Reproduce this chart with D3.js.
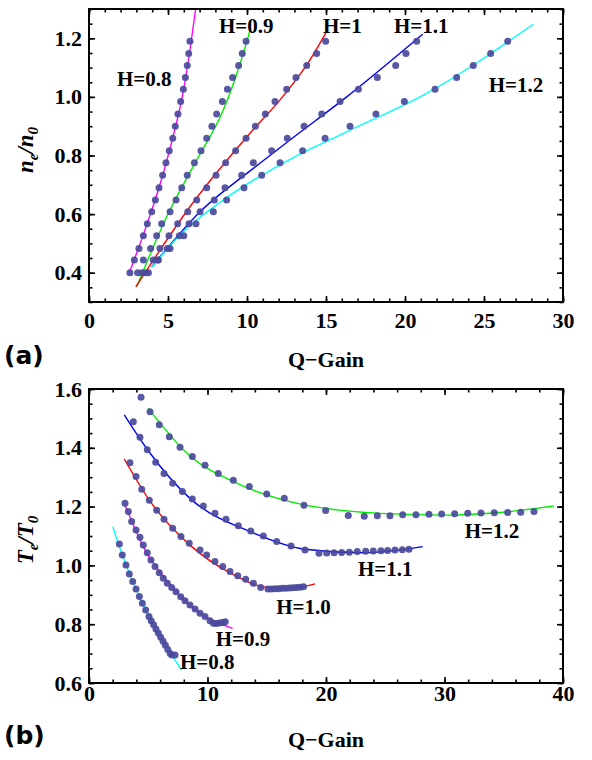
<!DOCTYPE html>
<html>
<head>
<meta charset="utf-8">
<script src="https://cdnjs.cloudflare.com/ajax/libs/d3/7.8.5/d3.min.js"></script>
<style>
body { margin: 0; background: #fff; }
svg { display: block; }
.hlab { font-family: "Liberation Serif", serif; font-weight: bold; font-size: 21px; }
</style>
</head>
<body>
<div id="chart"></div>
<script>
// ---------- panel (a): n_e/n_0 against Q-Gain ----------
var nLevels = [0.400, 0.443, 0.483, 0.526, 0.567, 0.608, 0.648, 0.690, 0.733, 0.775,
               0.816, 0.859, 0.900, 0.942, 0.984, 1.026, 1.066, 1.107, 1.148, 1.190];
var nQ08 = [2.59, 2.87, 3.16, 3.44, 3.69, 3.97, 4.20, 4.43, 4.66, 4.87, 5.08, 5.30, 5.46, 5.63, 5.80, 5.97, 6.10, 6.22, 6.31, 6.39];
var nQ09 = [3.08, 3.44, 3.90, 4.28, 4.60, 5.13, 5.51, 5.87, 6.22, 6.67, 7.09, 7.45, 7.78, 8.08, 8.44, 8.76, 9.09, 9.47, 9.70, 9.94];
var nQ10 = [3.37, 4.07, 4.49, 5.06, 5.61, 6.25, 6.82, 7.45, 8.04, 8.65, 9.28, 9.94, 10.53, 11.16, 11.77, 12.51, 13.10, 13.78, 14.41, 14.98];
var nQ11 = [3.59, 4.35, 4.96, 5.72, 6.33, 7.03, 7.93, 8.61, 9.66, 10.40, 11.56, 12.55, 13.61, 14.73, 15.89, 17.05, 18.25, 19.41, 20.06, 20.74];
var nQ12 = [3.76, 4.39, 5.13, 6.00, 6.77, 7.87, 8.71, 9.81, 10.93, 12.09, 13.52, 14.94, 16.52, 18.16, 19.96, 21.90, 23.27, 24.32, 25.42, 26.50];

// fitted curves
var nFitQ08 = [2.55, 3.44, 4.43, 5.30, 5.97, 6.39, 6.75];
var nFitN08 = [0.400, 0.530, 0.690, 0.860, 1.020, 1.160, 1.300];
var nFitQ09 = [3.02, 5.02, 6.82, 8.50, 9.77, 10.19];
var nFitN09 = [0.352, 0.603, 0.785, 0.955, 1.149, 1.228];
var nFitQ10 = [2.97, 6.39, 10.19, 12.09, 13.78, 15.04];
var nFitN10 = [0.352, 0.625, 0.876, 0.990, 1.109, 1.223];
var nFitQ11 = [3.97, 7.03, 10.40, 12.72, 16.31, 21.12];
var nFitN11 = [0.420, 0.608, 0.756, 0.853, 1.000, 1.214];
var nFitQ12 = [4.00, 5.76, 8.50, 12.72, 16.31, 21.16, 28.12];
var nFitN12 = [0.420, 0.529, 0.648, 0.787, 0.881, 1.006, 1.248];

var nLabels = ["H=0.8", "H=0.9", "H=1", "H=1.1", "H=1.2"];
var nLabelQ = [1.77, 8.23, 14.81, 19.30, 25.30];
var nLabelN = [1.037, 1.218, 1.218, 1.218, 1.017];
var nColors = ["#ff00ff", "#00ee00", "#ff0000", "#0000ff", "#00ffff"];

// ---------- panel (b): T_e/T_0 against Q-Gain ----------
var tQ08 = [2.56, 2.81, 3.12, 3.40, 3.69, 3.97, 4.25, 4.50, 4.78, 5.06, 5.25, 5.45, 5.65, 5.85, 6.05, 6.25, 6.45, 6.65, 6.85, 7.00, 7.26];
var tT08 = [1.073, 1.035, 1.001, 0.971, 0.945, 0.920, 0.894, 0.871, 0.848, 0.826, 0.812, 0.798, 0.784, 0.770, 0.756, 0.742, 0.728, 0.714, 0.700, 0.695, 0.695];
var tQ09 = [3.04, 3.32, 3.60, 3.97, 4.30, 4.58, 4.92, 5.23, 5.57, 5.93, 6.27, 6.61, 6.98, 7.34, 7.74, 8.10, 8.52, 8.95, 9.37, 9.79, 10.21, 10.50, 10.75, 11.00, 11.25, 11.50];
var tT09 = [1.211, 1.183, 1.149, 1.120, 1.096, 1.069, 1.043, 1.018, 0.996, 0.975, 0.956, 0.939, 0.925, 0.910, 0.893, 0.880, 0.865, 0.852, 0.837, 0.826, 0.812, 0.803, 0.802, 0.804, 0.806, 0.808];
var tQ10 = [3.46, 3.97, 4.45, 5.09, 5.71, 6.33, 7.06, 7.76, 8.46, 9.37, 9.93, 10.63, 11.28, 11.90, 12.55, 13.22, 13.87, 14.49, 15.10, 15.40, 15.70, 16.00, 16.30, 16.60, 16.90, 17.20, 17.50, 17.80, 18.10];
var tT10 = [1.349, 1.302, 1.259, 1.222, 1.188, 1.157, 1.126, 1.098, 1.075, 1.052, 1.035, 1.013, 0.996, 0.979, 0.965, 0.953, 0.939, 0.925, 0.920, 0.920, 0.921, 0.921, 0.922, 0.922, 0.923, 0.924, 0.925, 0.926, 0.927];
var tQ11 = [3.74, 4.30, 4.92, 5.63, 6.33, 7.06, 7.88, 8.72, 9.65, 10.63, 11.56, 12.60, 13.65, 14.71, 15.84, 17.05, 18.23, 19.41, 20.06, 20.68, 21.32, 21.97, 22.64, 23.35, 23.99, 24.64, 25.20, 25.82, 26.44, 27.00];
var tT11 = [1.489, 1.436, 1.393, 1.351, 1.313, 1.279, 1.251, 1.226, 1.202, 1.177, 1.157, 1.135, 1.117, 1.100, 1.081, 1.066, 1.052, 1.041, 1.042, 1.043, 1.044, 1.045, 1.047, 1.048, 1.049, 1.050, 1.051, 1.052, 1.053, 1.055];
var tQ12 = [4.39, 5.15, 5.93, 6.78, 7.68, 8.72, 9.79, 10.91, 12.18, 13.53, 15.00, 16.48, 18.14, 19.97, 21.88, 23.23, 24.33, 25.40, 26.47, 27.59, 28.69, 29.76, 30.86, 31.96, 33.08, 34.20, 35.33, 36.43, 37.55];
var tT12 = [1.572, 1.523, 1.478, 1.438, 1.402, 1.370, 1.341, 1.313, 1.290, 1.268, 1.243, 1.228, 1.205, 1.187, 1.170, 1.167, 1.169, 1.169, 1.172, 1.172, 1.174, 1.175, 1.176, 1.177, 1.178, 1.179, 1.180, 1.181, 1.183];

var tFitQ08 = [2.00, 2.81, 3.69, 4.78, 5.71, 7.82];
var tFitT08 = [1.132, 1.035, 0.945, 0.848, 0.780, 0.644];
var tFitQ09 = [3.04, 4.58, 6.98, 9.37, 12.12];
var tFitT09 = [1.205, 1.064, 0.928, 0.837, 0.786];
var tFitQ10 = [2.98, 5.09, 8.52, 11.90, 15.27, 17.50, 19.07];
var tFitT10 = [1.362, 1.222, 1.069, 0.975, 0.925, 0.925, 0.937];
var tFitQ11 = [2.98, 5.00, 8.52, 13.59, 18.23, 23.15, 28.16];
var tFitT11 = [1.512, 1.390, 1.228, 1.115, 1.055, 1.043, 1.064];
var tFitQ12 = [5.00, 8.52, 12.18, 16.96, 24.56, 30.20, 34.40, 39.20];
var tFitT12 = [1.534, 1.372, 1.285, 1.217, 1.177, 1.171, 1.179, 1.202];

var tLabels = ["H=0.8", "H=0.9", "H=1.0", "H=1.1", "H=1.2"];
var tLabelQ = [7.68, 10.70, 15.80, 22.70, 31.70];
var tLabelT = [0.648, 0.726, 0.835, 0.964, 1.093];
var tColors = ["#00ffff", "#ff00ff", "#ff0000", "#0000ff", "#00ee00"];

var dotColor = "#4a4a9c";
var serif = "'Liberation Serif', 'Times New Roman', serif";

var width = 592, height = 760;
var svg = d3.select("#chart").append("svg")
    .attr("width", width)
    .attr("height", height);

function zipPts(xs, ys) {
    return xs.map(function(v, i) { return [v, ys[i]]; });
}

function drawPanel(opt) {
    var x = d3.scaleLinear().domain(opt.xDomain).range([89, 563]);
    var y = d3.scaleLinear().domain(opt.yDomain).range([opt.bottom, opt.top]);
    var g = svg.append("g");

    g.append("clipPath").attr("id", opt.id + "-clip")
        .append("rect")
        .attr("x", 89).attr("y", opt.top)
        .attr("width", 474).attr("height", opt.bottom - opt.top);

    var plot = g.append("g").attr("clip-path", "url(#" + opt.id + "-clip)");

    var line = d3.line()
        .x(function(d) { return x(d[0]); })
        .y(function(d) { return y(d[1]); })
        .curve(d3.curveMonotoneX);

    // fitted lines first, dots on top
    opt.fits.forEach(function(f, i) {
        plot.append("path")
            .datum(zipPts(f[0], f[1]))
            .attr("d", line)
            .attr("fill", "none")
            .attr("stroke", opt.colors[i])
            .attr("stroke-width", 1.4);
    });

    opt.dots.forEach(function(s) {
        plot.selectAll(null)
            .data(zipPts(s[0], s[1]))
            .enter().append("circle")
            .attr("cx", function(d) { return x(d[0]); })
            .attr("cy", function(d) { return y(d[1]); })
            .attr("r", 3.5)
            .attr("fill", dotColor)
            .attr("fill-opacity", 0.92);
    });

    // axes: major + minor ticks, pointing inwards on every side
    var yMajor = d3.range(opt.yMajor[0], opt.yMajor[1] + 1e-9, 0.2);
    var yMinor = d3.range(opt.yDomain[0], opt.yDomain[1] + 1e-9, 0.05);
    var xMajor = d3.range(0, opt.xDomain[1] + 1e-9, opt.xStep);
    var xMinor = d3.range(0, opt.xDomain[1] + 1e-9, opt.xStep / 5);

    g.append("g").attr("transform", "translate(0," + opt.bottom + ")")
        .call(d3.axisBottom(x).tickValues(xMinor).tickSize(-3.5).tickFormat(""));
    g.append("g").attr("transform", "translate(0," + opt.bottom + ")")
        .call(d3.axisBottom(x).tickValues(xMajor).tickSize(-6).tickPadding(opt.xPad).tickFormat(d3.format("d")));
    g.append("g").attr("transform", "translate(0," + opt.top + ")")
        .call(d3.axisTop(x).tickValues(xMinor).tickSize(-3.5).tickFormat(""));
    g.append("g").attr("transform", "translate(0," + opt.top + ")")
        .call(d3.axisTop(x).tickValues(xMajor).tickSize(-6).tickFormat(""));

    g.append("g").attr("transform", "translate(89,0)")
        .call(d3.axisLeft(y).tickValues(yMinor).tickSize(-3.5).tickFormat(""));
    g.append("g").attr("transform", "translate(89,0)")
        .call(d3.axisLeft(y).tickValues(yMajor).tickSize(-6).tickPadding(7).tickFormat(d3.format(".1f")));
    g.append("g").attr("transform", "translate(563,0)")
        .call(d3.axisRight(y).tickValues(yMinor).tickSize(-3.5).tickFormat(""));
    g.append("g").attr("transform", "translate(563,0)")
        .call(d3.axisRight(y).tickValues(yMajor).tickSize(-6).tickFormat(""));

    g.selectAll(".domain").remove();
    g.selectAll(".tick line").attr("stroke", "#000").attr("stroke-width", 1.6);
    g.selectAll(".tick text")
        .style("font-family", serif)
        .style("font-weight", "bold")
        .style("font-size", "22px")
        .attr("fill", "#000");

    g.append("rect")
        .attr("x", 89).attr("y", opt.top)
        .attr("width", 474).attr("height", opt.bottom - opt.top)
        .attr("fill", "none").attr("stroke", "#000").attr("stroke-width", 2);

    // curve labels
    opt.labels[0].forEach(function(t, i) {
        g.append("text").attr("class", "hlab")
            .attr("x", x(opt.labels[1][i]))
            .attr("y", y(opt.labels[2][i]))
            .text(t);
    });

    // x title
    g.append("text")
        .attr("x", 326).attr("y", opt.titleY)
        .attr("text-anchor", "middle")
        .style("font-family", serif)
        .style("font-weight", "bold")
        .style("font-size", "22px")
        .text("Q\u2212Gain");

    // y title, rotated
    var yt = g.append("text")
        .attr("transform", "translate(33," + opt.yTitleY + ") rotate(-90)")
        .attr("text-anchor", "middle")
        .style("font-family", serif)
        .style("font-weight", "bold")
        .style("font-style", "italic")
        .style("font-size", "23px");
    yt.append("tspan").text(opt.yTitle[0]);
    yt.append("tspan").style("font-size", "15px").attr("dy", 5).text(opt.yTitle[1]);
    yt.append("tspan").attr("dy", -5).text("/" + opt.yTitle[0]);
    yt.append("tspan").style("font-size", "15px").attr("dy", 5).text("0");

    // panel tag
    g.append("text")
        .attr("x", 4).attr("y", opt.tagY)
        .style("font-family", "'DejaVu Sans', sans-serif")
        .style("font-weight", "bold")
        .style("font-size", "25px")
        .text(opt.tag);
}

drawPanel({
    id: "pa", top: 9, bottom: 302,
    xDomain: [0, 30], yDomain: [0.3, 1.3], yMajor: [0.4, 1.2], xStep: 5, xPad: 10,
    colors: nColors,
    fits: [[nFitQ08, nFitN08], [nFitQ09, nFitN09], [nFitQ10, nFitN10], [nFitQ11, nFitN11], [nFitQ12, nFitN12]],
    dots: [[nQ08, nLevels], [nQ09, nLevels], [nQ10, nLevels], [nQ11, nLevels], [nQ12, nLevels]],
    labels: [nLabels, nLabelQ, nLabelN],
    titleY: 367, yTitleY: 150, yTitle: ["n", "e"], tag: "(a)", tagY: 364
});

drawPanel({
    id: "pb", top: 389, bottom: 683,
    xDomain: [0, 40], yDomain: [0.6, 1.6], yMajor: [0.6, 1.6], xStep: 10, xPad: 2,
    colors: tColors,
    fits: [[tFitQ08, tFitT08], [tFitQ09, tFitT09], [tFitQ10, tFitT10], [tFitQ11, tFitT11], [tFitQ12, tFitT12]],
    dots: [[tQ08, tT08], [tQ09, tT09], [tQ10, tT10], [tQ11, tT11], [tQ12, tT12]],
    labels: [tLabels, tLabelQ, tLabelT],
    titleY: 747, yTitleY: 540, yTitle: ["T", "e"], tag: "(b)", tagY: 744
});
</script>
</body>
</html>
